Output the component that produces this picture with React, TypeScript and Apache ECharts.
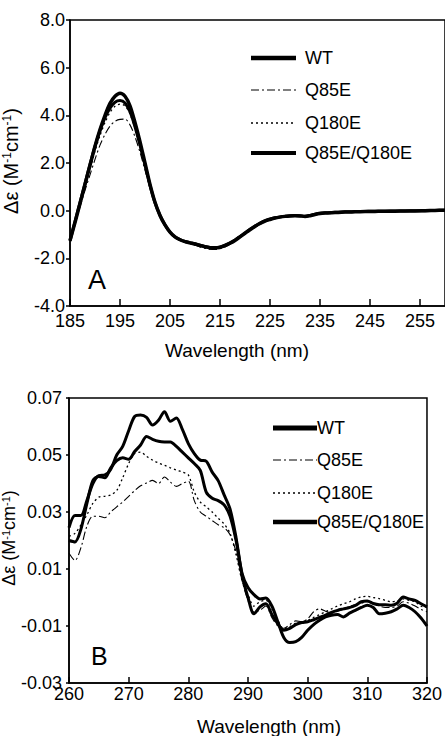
import React, { useEffect, useRef } from "react";
import * as echarts from "echarts";

// ---------- Panel A (far-UV CD) ----------
const topWl = [185, 186, 187, 188, 189, 190, 191, 192, 193, 194, 195, 196, 197, 198, 199, 200, 201, 202, 203, 204, 205, 206, 207, 208, 209, 210, 211, 212, 213, 214, 215, 216, 217, 218, 219, 220, 221, 222, 223, 224, 225, 226, 227, 228, 229, 230, 231, 232, 233, 234, 235, 236, 238, 240, 242, 244, 246, 248, 250, 252, 254, 256, 258, 260];
const topWT = [-1.25, -0.5, 0.3, 1.1, 1.9, 2.7, 3.4, 4.0, 4.5, 4.8, 4.93, 4.8, 4.4, 3.7, 2.9, 2.0, 1.1, 0.35, -0.2, -0.6, -0.9, -1.1, -1.22, -1.3, -1.35, -1.4, -1.46, -1.52, -1.56, -1.57, -1.54, -1.47, -1.37, -1.25, -1.1, -0.95, -0.8, -0.66, -0.54, -0.44, -0.37, -0.31, -0.27, -0.24, -0.22, -0.21, -0.22, -0.24, -0.21, -0.16, -0.12, -0.1, -0.08, -0.06, -0.05, -0.04, -0.03, -0.02, -0.02, -0.01, -0.01, 0.0, 0.01, 0.02];
const topQ85E = [-1.2, -0.55, 0.15, 0.85, 1.5, 2.15, 2.75, 3.2, 3.55, 3.75, 3.83, 3.84, 3.6, 3.1, 2.45, 1.7, 0.95, 0.3, -0.22, -0.62, -0.92, -1.12, -1.25, -1.33, -1.39, -1.45, -1.52, -1.58, -1.62, -1.63, -1.6, -1.52, -1.41, -1.28, -1.13, -0.98, -0.83, -0.69, -0.57, -0.47, -0.39, -0.33, -0.29, -0.26, -0.24, -0.23, -0.24, -0.26, -0.23, -0.18, -0.14, -0.11, -0.09, -0.07, -0.06, -0.05, -0.04, -0.03, -0.02, -0.02, -0.01, -0.01, 0.0, 0.01];
const topQ180E = [-1.22, -0.52, 0.25, 1.0, 1.75, 2.5, 3.15, 3.7, 4.12, 4.38, 4.47, 4.4, 4.05, 3.45, 2.7, 1.88, 1.05, 0.32, -0.21, -0.61, -0.91, -1.11, -1.23, -1.31, -1.37, -1.43, -1.5, -1.56, -1.6, -1.61, -1.58, -1.5, -1.4, -1.27, -1.12, -0.97, -0.82, -0.68, -0.56, -0.46, -0.38, -0.32, -0.28, -0.25, -0.23, -0.22, -0.23, -0.25, -0.22, -0.17, -0.13, -0.1, -0.08, -0.06, -0.05, -0.04, -0.03, -0.02, -0.02, -0.01, -0.01, 0.0, 0.0, 0.01];
const topQQ = [-1.28, -0.45, 0.35, 1.15, 1.95, 2.7, 3.35, 3.9, 4.3, 4.55, 4.62, 4.52, 4.15, 3.52, 2.75, 1.92, 1.06, 0.33, -0.2, -0.6, -0.9, -1.1, -1.21, -1.29, -1.34, -1.39, -1.45, -1.5, -1.54, -1.55, -1.52, -1.45, -1.35, -1.23, -1.08, -0.93, -0.78, -0.64, -0.52, -0.42, -0.35, -0.3, -0.26, -0.23, -0.21, -0.2, -0.21, -0.23, -0.2, -0.15, -0.11, -0.09, -0.07, -0.05, -0.04, -0.03, -0.02, -0.02, -0.01, -0.01, 0.0, 0.0, 0.01, 0.02];
const topXTicks = [185, 195, 205, 215, 225, 235, 245, 255];

// ---------- Panel B (near-UV CD) ----------
const botWl = [260, 261, 262, 263, 264, 265, 266, 267, 268, 269, 270, 271, 272, 273, 274, 275, 276, 277, 278, 279, 280, 281, 282, 283, 284, 285, 286, 287, 288, 289, 290, 291, 292, 293, 294, 295, 296, 297, 298, 299, 300, 301, 302, 303, 304, 305, 306, 307, 308, 309, 310, 311, 312, 313, 314, 315, 316, 317, 318, 319, 320];
const botWT = [0.0245, 0.0288, 0.0288, 0.034, 0.04, 0.0428, 0.043, 0.045, 0.05, 0.053, 0.0585, 0.0635, 0.064, 0.0632, 0.0605, 0.0622, 0.0652, 0.0618, 0.063, 0.059, 0.054, 0.0505, 0.0482, 0.0478, 0.044, 0.041, 0.036, 0.031, 0.021, 0.008, 0.0, -0.0057, -0.0033, -0.0022, -0.006, -0.0092, -0.0115, -0.0108, -0.0095, -0.0088, -0.0085, -0.0078, -0.007, -0.0062, -0.0052, -0.0045, -0.004, -0.0035, -0.0028, -0.0015, -0.0012, -0.0021, -0.0025, -0.0025, -0.0027, -0.002, 0.0002, -0.0005, -0.001, -0.0022, -0.0033];
const botQ85E = [0.0155, 0.013, 0.0175, 0.025, 0.0285, 0.0285, 0.028, 0.03, 0.0318, 0.0335, 0.0355, 0.0375, 0.0392, 0.0402, 0.0411, 0.04, 0.0423, 0.0405, 0.039, 0.04, 0.0408, 0.034, 0.03, 0.0285, 0.027, 0.0255, 0.0245, 0.022, 0.016, 0.006, -0.001, -0.005, -0.0045, -0.003, -0.007, -0.01, -0.0108, -0.0095, -0.0082, -0.0085, -0.0075, -0.005, -0.004, -0.0048, -0.0055, -0.0048, -0.004, -0.0032, -0.0025, -0.002, -0.0015, -0.002, -0.003, -0.0035, -0.0035, -0.003, -0.0015, -0.002, -0.003, -0.0042, -0.005];
const botQ180E = [0.0215, 0.0225, 0.0255, 0.029, 0.033, 0.0352, 0.0355, 0.036, 0.0375, 0.042, 0.047, 0.0505, 0.051, 0.0495, 0.0482, 0.0472, 0.0464, 0.0455, 0.0447, 0.044, 0.043, 0.037, 0.0335, 0.0318, 0.03, 0.0278, 0.0258, 0.0225, 0.015, 0.006, 0.001, -0.003, -0.0015, -0.001, -0.004, -0.008, -0.011, -0.0102, -0.009, -0.0085, -0.008, -0.007, -0.006, -0.005, -0.004, -0.003, -0.0022, -0.0015, -0.0005, 0.0002, 0.0004, 0.0, -0.0004, -0.001, -0.0015, -0.0012, -0.0005, -0.001, -0.0015, -0.003, -0.0035];
const botQQ = [0.02, 0.0195, 0.024, 0.033, 0.041, 0.0425, 0.042, 0.0455, 0.048, 0.049, 0.0485, 0.0512, 0.0535, 0.0565, 0.0555, 0.0548, 0.0546, 0.0546, 0.053, 0.051, 0.049, 0.047, 0.0446, 0.037, 0.0348, 0.034, 0.0325, 0.0285, 0.02, 0.0085, 0.0035, 0.001, -0.0005, -0.0002, -0.003, -0.0085, -0.014, -0.0158, -0.0155, -0.014, -0.0115, -0.0095, -0.008, -0.0068, -0.0062, -0.006, -0.0068, -0.0055, -0.0045, -0.0035, -0.0027, -0.0035, -0.0057, -0.0055, -0.005, -0.004, -0.0027, -0.0035, -0.005, -0.0072, -0.01];
const botYTicks = [-0.03, -0.01, 0.01, 0.03, 0.05, 0.07];

const seriesNames = ["WT", "Q85E", "Q180E", "Q85E/Q180E"];

const FONT = "'Liberation Sans', Arial, sans-serif";

function pairs(xs: number[], ys: number[]) {
  return xs.map((x, i) => [x, ys[i]]);
}

export default function App() {
  const ref = useRef<HTMLDivElement>(null);

  useEffect(() => {
    if (!ref.current) return;
    const chart = echarts.init(ref.current, undefined, { renderer: "svg" });

    const axisLine = { show: true, onZero: false, lineStyle: { color: "#000", width: 1.5 } };
    const labelStyle = { color: "#000", fontSize: 18, fontFamily: FONT };

    const styles = {
      WT: { color: "#000", width: 3.5, type: "solid" as any },
      Q85E: { color: "#000", width: 1.1, type: [8, 3, 2, 3] as any },
      Q180E: { color: "#000", width: 1.3, type: [2, 3] as any },
      QQ: { color: "#000", width: 3, type: "solid" as any },
    };

    const mkSeries = (name: string, data: number[][], ls: any, idx: number, smooth: number, z: number) => ({
      name,
      type: "line",
      xAxisIndex: idx,
      yAxisIndex: idx,
      data,
      showSymbol: false,
      symbol: "none",
      smooth,
      lineStyle: ls,
      z,
      silent: true,
    });

    const legendItems = (x0: number, x1: number, tx: number, ys: number[], widths: number[]) => {
      const dashes: any[] = [null, [8, 3, 2, 3], [2, 3], null];
      const out: any[] = [];
      seriesNames.forEach((n, i) => {
        out.push({
          type: "line",
          shape: { x1: x0, y1: ys[i], x2: x1, y2: ys[i] },
          style: { stroke: "#000", lineWidth: widths[i], lineDash: dashes[i] || undefined },
        });
        out.push({
          type: "text",
          x: tx,
          y: ys[i],
          style: { text: n, fill: "#000", font: `18px ${FONT}`, align: "left", verticalAlign: "middle" },
        });
      });
      return out;
    };

    const yTitle = (x: number, y: number, fs: number) => ({
      type: "text",
      x,
      y,
      rotation: Math.PI / 2,
      style: {
        text: "{a|Δε (M}{s|-1}{a|cm}{s|-1}{a|)}",
        align: "center",
        verticalAlign: "middle",
        fill: "#000",
        rich: {
          a: { fontSize: fs, fontFamily: FONT, fill: "#000", verticalAlign: "bottom" },
          s: { fontSize: Math.round(fs * 0.62), fontFamily: FONT, fill: "#000", verticalAlign: "top" },
        },
      },
    });

    chart.setOption({
      animation: false,
      backgroundColor: "#fff",
      grid: [
        { left: 70, top: 20, width: 377, height: 286, show: true, borderColor: "#000", borderWidth: 1.5, backgroundColor: "transparent" },
        { left: 69, top: 398, width: 368, height: 285, show: true, borderColor: "#000", borderWidth: 1.5, backgroundColor: "transparent" },
      ],
      xAxis: [
        {
          type: "value",
          gridIndex: 0,
          min: 185,
          max: 260,
          axisLine,
          axisTick: { show: true, inside: true, length: 7, lineStyle: { color: "#000", width: 1.5 }, customValues: topXTicks },
          axisLabel: { ...labelStyle, margin: 6, customValues: topXTicks, formatter: (v: number) => String(v) },
          splitLine: { show: false },
        },
        {
          type: "value",
          gridIndex: 1,
          min: 260,
          max: 320,
          interval: 10,
          axisLine,
          axisTick: { show: true, inside: true, length: 6, lineStyle: { color: "#000", width: 1.5 } },
          axisLabel: { ...labelStyle, margin: 2, formatter: (v: number) => String(v) },
          splitLine: { show: false },
        },
      ],
      yAxis: [
        {
          type: "value",
          gridIndex: 0,
          min: -4,
          max: 8,
          interval: 2,
          axisLine,
          axisTick: { show: true, inside: false, length: 4, lineStyle: { color: "#000", width: 1.5 } },
          axisLabel: { ...labelStyle, margin: 5, formatter: (v: number) => v.toFixed(1) },
          splitLine: { show: false },
        },
        {
          type: "value",
          gridIndex: 1,
          min: -0.03,
          max: 0.07,
          axisLine,
          axisTick: { show: true, inside: false, length: 3, lineStyle: { color: "#000", width: 1.5 }, customValues: botYTicks },
          axisLabel: { ...labelStyle, margin: 7, customValues: botYTicks, formatter: (v: number) => v.toFixed(2) },
          splitLine: { show: false },
        },
      ],
      series: [
        mkSeries("Q85E", pairs(topWl, topQ85E), styles.Q85E, 0, 0.3, 2),
        mkSeries("Q180E", pairs(topWl, topQ180E), styles.Q180E, 0, 0.3, 2),
        mkSeries("Q85E/Q180E", pairs(topWl, topQQ), styles.QQ, 0, 0.3, 3),
        mkSeries("WT", pairs(topWl, topWT), styles.WT, 0, 0.3, 4),
        mkSeries("Q85E", pairs(botWl, botQ85E), styles.Q85E, 1, 0.3, 2),
        mkSeries("Q180E", pairs(botWl, botQ180E), styles.Q180E, 1, 0.3, 2),
        mkSeries("Q85E/Q180E", pairs(botWl, botQQ), { ...styles.QQ, width: 3 }, 1, 0.3, 3),
        mkSeries("WT", pairs(botWl, botWT), { ...styles.WT, width: 3 }, 1, 0.3, 4),
      ],
      graphic: [
        ...legendItems(251, 296, 305, [58, 90, 123, 153], [4.5, 1.2, 1.3, 4]),
        ...legendItems(273, 317, 317, [428, 460, 493, 522], [5, 1.2, 1.3, 4.5]),
        { type: "text", x: 88, y: 280, style: { text: "A", fill: "#000", font: `27px ${FONT}`, align: "left", verticalAlign: "middle" } },
        { type: "text", x: 91, y: 656, style: { text: "B", fill: "#000", font: `25px ${FONT}`, align: "left", verticalAlign: "middle" } },
        { type: "text", x: 237, y: 350, style: { text: "Wavelength (nm)", fill: "#000", font: `19px ${FONT}`, align: "center", verticalAlign: "middle" } },
        { type: "text", x: 269, y: 726, style: { text: "Wavelength (nm)", fill: "#000", font: `19px ${FONT}`, align: "center", verticalAlign: "middle" } },
        yTitle(11, 161, 20),
        yTitle(9, 538, 18),
      ],
    });

    return () => chart.dispose();
  }, []);

  return (
    <div
      ref={ref}
      style={{ position: "absolute", left: 0, top: 0, width: 445, height: 736, background: "#fff" }}
    />
  );
}
